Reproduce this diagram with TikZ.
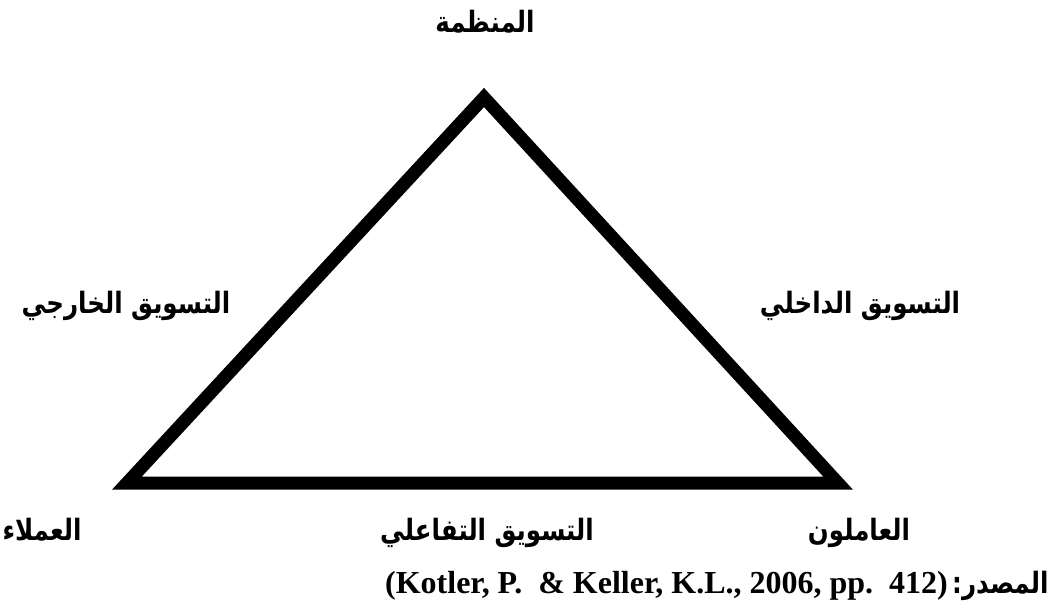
\documentclass[tikz,border=0pt]{standalone}
\usepackage{graphicx}
\usepackage{fontspec}
\setmainfont{Liberation Serif}
\newfontfamily\arabicfont[Script=Arabic]{DejaVu Sans}
\TeXXeTstate=1
\newcommand{\artext}[1]{\scalebox{1}[1.2]{\arabicfont\bfseries\fontsize{24.5}{28}\selectfont\beginR #1\endR}}
\begin{document}
\begin{tikzpicture}[x=1pt,y=-1pt,
  ar/.style={inner sep=0pt, anchor=base},
  la/.style={font=\bfseries\fontsize{32}{36}\selectfont, inner sep=0pt},
  tri/.style={line width=13pt, line join=miter, draw=black}]
\useasboundingbox (0,0) rectangle (1058,602);
\coordinate (top) at (484,97.5);
\coordinate (bl) at (127,483);
\coordinate (br) at (838,483);
\draw[tri] (top) -- (bl) -- (br) -- cycle;
\node[ar] (org) at (485,33) {\artext{المنظمة}};
\node[ar] (ext) at (126,313) {\artext{التسويق الخارجي}};
\node[ar] (int) at (860,313) {\artext{التسويق الداخلي}};
\node[ar] (cust) at (42,540) {\artext{العملاء}};
\node[ar] (inter) at (487,540) {\artext{التسويق التفاعلي}};
\node[ar] (emp) at (859,540) {\artext{العاملون}};
\node[la, anchor=base east] (src) at (948,593) {(Kotler, P.\ \ \& Keller, K.L., 2006, pp.\ \ 412)};
\node[ar, anchor=base west] (srclab) at (952,593) {\artext{المصدر:}};
\end{tikzpicture}
\end{document}
